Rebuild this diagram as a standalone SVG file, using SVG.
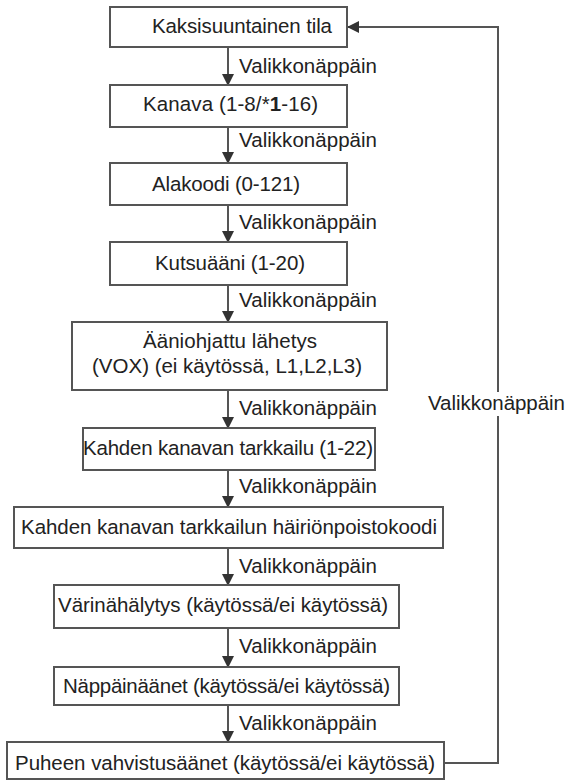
<svg xmlns="http://www.w3.org/2000/svg" width="567" height="782" viewBox="0 0 567 782">
<defs>
<style>
.box{fill:#fff;stroke:#555;stroke-width:2}
.t{font-family:"Liberation Sans",Arial,sans-serif;font-size:20.5px;fill:#222}
.c{fill:none;stroke:#555;stroke-width:2}
</style>
<marker id="ah" markerWidth="12" markerHeight="13" refX="11" refY="6" orient="auto" markerUnits="userSpaceOnUse" viewBox="0 0 12 12">
<path d="M0,0 L12,6 L0,12 Z" fill="#333"/>
</marker>
</defs>
<rect width="567" height="782" fill="#fff"/>
<g id="connectors">
<line class="c" x1="228" y1="47" x2="228" y2="85" marker-end="url(#ah)"/>
<line class="c" x1="228" y1="127" x2="228" y2="163" marker-end="url(#ah)"/>
<line class="c" x1="228" y1="205" x2="228" y2="242" marker-end="url(#ah)"/>
<line class="c" x1="228" y1="285" x2="228" y2="322" marker-end="url(#ah)"/>
<line class="c" x1="228" y1="390" x2="228" y2="428" marker-end="url(#ah)"/>
<line class="c" x1="228" y1="470" x2="228" y2="507" marker-end="url(#ah)"/>
<line class="c" x1="228" y1="548" x2="228" y2="585" marker-end="url(#ah)"/>
<line class="c" x1="228" y1="628" x2="228" y2="667" marker-end="url(#ah)"/>
<line class="c" x1="228" y1="705" x2="228" y2="742" marker-end="url(#ah)"/>
<polyline class="c" points="444,763 498,763 498,27 348,27" marker-end="url(#ah)"/>
<text class="t" x="239" y="73" textLength="138">Valikkonäppäin</text>
<text class="t" x="239" y="147" textLength="138">Valikkonäppäin</text>
<text class="t" x="239" y="229" textLength="138">Valikkonäppäin</text>
<text class="t" x="239" y="307" textLength="138">Valikkonäppäin</text>
<text class="t" x="239" y="415" textLength="138">Valikkonäppäin</text>
<text class="t" x="239" y="493" textLength="138">Valikkonäppäin</text>
<text class="t" x="239" y="573" textLength="138">Valikkonäppäin</text>
<text class="t" x="239" y="653" textLength="138">Valikkonäppäin</text>
<text class="t" x="239" y="730" textLength="138">Valikkonäppäin</text>
<rect x="426" y="392" width="142" height="24" fill="#fff"/>
<text class="t" x="428" y="410" textLength="137">Valikkonäppäin</text>
</g>
<g id="n1"><rect class="box" x="110" y="7" width="237" height="40"/><text class="t" x="152" y="33" textLength="180">Kaksisuuntainen tila</text></g>
<g id="n2"><rect class="box" x="110" y="85" width="237" height="42"/><text class="t" x="143" y="111" textLength="175">Kanava (1-8/*<tspan font-weight="bold">1</tspan>-16)</text></g>
<g id="n3"><rect class="box" x="110" y="163" width="237" height="42"/><text class="t" x="152" y="191" textLength="148">Alakoodi (0-121)</text></g>
<g id="n4"><rect class="box" x="110" y="242" width="237" height="43"/><text class="t" x="155" y="270" textLength="150">Kutsuääni (1-20)</text></g>
<g id="n5"><rect class="box" x="72" y="322" width="315" height="68"/><text class="t" x="143" y="348" textLength="174">Ääniohjattu lähetys</text><text class="t" x="92" y="373" textLength="270">(VOX) (ei käytössä, L1,L2,L3)</text></g>
<g id="n6"><rect class="box" x="83" y="428" width="292" height="42"/><text class="t" x="83" y="455" textLength="290">Kahden kanavan tarkkailu (1-22)</text></g>
<g id="n7"><rect class="box" x="14" y="507" width="429" height="41"/><text class="t" x="21" y="534" textLength="416">Kahden kanavan tarkkailun häiriönpoistokoodi</text></g>
<g id="n8"><rect class="box" x="54" y="585" width="345" height="43"/><text class="t" x="58" y="612" textLength="330">Värinähälytys (käytössä/ei käytössä)</text></g>
<g id="n9"><rect class="box" x="54" y="667" width="345" height="38"/><text class="t" x="63" y="693" textLength="327">Näppäinäänet (käytössä/ei käytössä)</text></g>
<g id="n10"><rect class="box" x="7" y="742" width="437" height="37"/><text class="t" x="15" y="770" textLength="420">Puheen vahvistusäänet (käytössä/ei käytössä)</text></g>
</svg>
